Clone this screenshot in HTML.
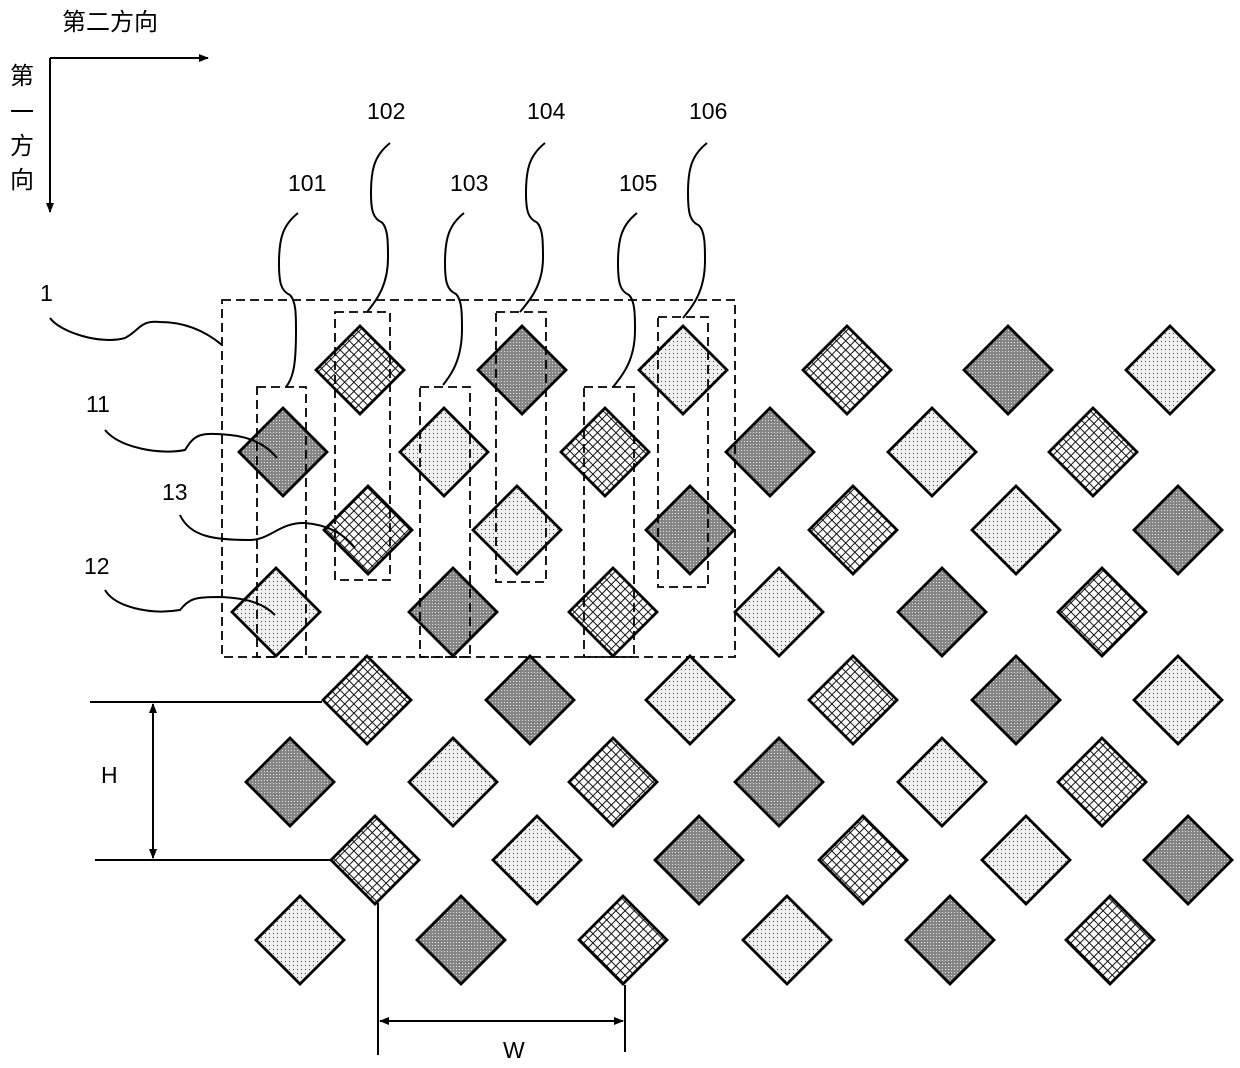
<!DOCTYPE html>
<html><head><meta charset="utf-8"><style>
html,body{margin:0;padding:0;background:#fff;}
svg{display:block;}
text{font-family:"Liberation Sans","Noto Sans CJK SC",sans-serif;fill:#000;}
</style></head><body>
<svg id="s" width="1240" height="1068" viewBox="0 0 1240 1068" xmlns="http://www.w3.org/2000/svg">
<defs>
<pattern id="pd" width="3" height="3" patternUnits="userSpaceOnUse"><rect width="3" height="3" fill="#858585"/><rect x="0" y="0" width="1" height="1" fill="#e0e0e0"/></pattern>
<pattern id="pl" width="4" height="4" patternUnits="userSpaceOnUse"><rect width="4" height="4" fill="#f0f0f0"/><rect x="1" y="1" width="1" height="1" fill="#444"/></pattern>
<pattern id="pc" width="6.5" height="6.5" patternUnits="userSpaceOnUse" patternTransform="rotate(45)"><rect width="6.5" height="6.5" fill="#fff"/><path d="M0,0H6.5M0,0V6.5" stroke="#111" stroke-width="2"/></pattern>
<marker id="ar" markerWidth="10" markerHeight="10" refX="9" refY="5" orient="auto" markerUnits="userSpaceOnUse"><path d="M0,1L10,5L0,9Z" fill="#000"/></marker>
</defs>
<g id="g"></g>
<text x="62" y="30" font-size="24">第二方向</text>
<text x="10" y="84" font-size="24">第</text>
<text x="10" y="120" font-size="24">一</text>
<text x="10" y="154" font-size="24">方</text>
<text x="10" y="188" font-size="24">向</text>
<path d="M50,58H208" stroke="#000" stroke-width="2" marker-end="url(#ar)"/>
<path d="M50,58V212" stroke="#000" stroke-width="2" marker-end="url(#ar)"/>
<g font-size="23">
<text x="288" y="191">101</text><text x="367" y="119">102</text><text x="450" y="191">103</text>
<text x="527" y="119">104</text><text x="619" y="191">105</text><text x="689" y="119">106</text>
<text x="40" y="301">1</text><text x="86" y="412">11</text><text x="162" y="500">13</text>
<text x="84" y="574">12</text><text x="101" y="783">H</text><text x="503" y="1058">W</text>
</g>
</svg>
<script>
const g=document.getElementById('g');let h='';
const rows=[[370,[[360,'c'],[522,'d'],[683,'l'],[847,'c'],[1008,'d'],[1170,'l']]],
[452,[[283,'d'],[444,'l'],[605,'c'],[770,'d'],[932,'l'],[1093,'c']]],
[530,[[368,'c'],[517,'l'],[690,'d'],[853,'c'],[1016,'l'],[1178,'d']]],
[612,[[276,'l'],[453,'d'],[613,'c'],[779,'l'],[942,'d'],[1102,'c']]],
[700,[[367,'c'],[530,'d'],[690,'l'],[853,'c'],[1016,'d'],[1178,'l']]],
[782,[[290,'d'],[453,'l'],[613,'c'],[779,'d'],[942,'l'],[1102,'c']]],
[860,[[375,'c'],[537,'l'],[699,'d'],[863,'c'],[1026,'l'],[1188,'d']]],
[940,[[300,'l'],[461,'d'],[623,'c'],[787,'l'],[950,'d'],[1110,'c']]]];
const r=44;
for(const [y,cs] of rows)for(const [x,t] of cs){h+=`<path d="M${x},${y-r}L${x+r},${y}L${x},${y+r}L${x-r},${y}Z" fill="url(#p${t})" stroke="#000" stroke-width="2.8"/>`;}
const ds='fill="none" stroke="#000" stroke-width="1.8" stroke-dasharray="9,5"';
h+=`<rect x="222" y="300" width="513" height="357" ${ds}/>`;
for(const [x,y,w,hh] of [[257,387,49,270],[335,312,55,268],[420,387,50,270],[496,312,50,270],[584,387,50,270],[658,317,50,270]])h+=`<rect x="${x}" y="${y}" width="${w}" height="${hh}" ${ds}/>`;
const L=(a,y0,e,y1)=>{const m=(y0+y1)/2-5;return `<path d="M${a},${y0} C${a-15},${y0+12} ${a-19},${y0+25} ${a-19},${y0+50} C${a-19},${m-12} ${a-17},${m-4} ${a-8},${m} C${a-2},${m+6} ${a-2},${m+20} ${a-2},${m+35} C${a-2},${y1-25} ${e+8},${y1-10} ${e},${y1}" fill="none" stroke="#000" stroke-width="2"/>`};
h+=L(298,213,286,387)+L(390,143,367,312)+L(464,213,443,385)+L(545,143,520,312)+L(637,213,613,387)+L(707,143,683,318);
const st='fill="none" stroke="#000" stroke-width="2"';
h+=`<path d="M50,318 C60,332 100,345 125,338 C140,330 140,320 160,322 C190,322 210,335 222,345" ${st}/>`;
h+=`<path d="M105,430 C120,448 160,455 185,450 C195,434 200,432 230,435 C260,438 272,452 277,458" ${st}/>`;
h+=`<path d="M180,515 C190,537 215,540 250,540 C270,540 280,522 305,523 C330,525 345,535 355,548" ${st}/>`;
h+=`<path d="M105,590 C115,607 150,615 180,610 C190,598 195,597 220,597 C250,598 265,605 275,615" ${st}/>`;
h+=`<path d="M90,702H322M95,860H332M378,903V1055M625,985V1052" stroke="#000" stroke-width="2"/>`;
h+=`<path d="M153,780V704" stroke="#000" stroke-width="2" marker-end="url(#ar)"/><path d="M153,780V858" stroke="#000" stroke-width="2" marker-end="url(#ar)"/>`;
h+=`<path d="M500,1021H380" stroke="#000" stroke-width="2" marker-end="url(#ar)"/><path d="M500,1021H623" stroke="#000" stroke-width="2" marker-end="url(#ar)"/>`;
g.innerHTML=h;
</script>
</body></html>
